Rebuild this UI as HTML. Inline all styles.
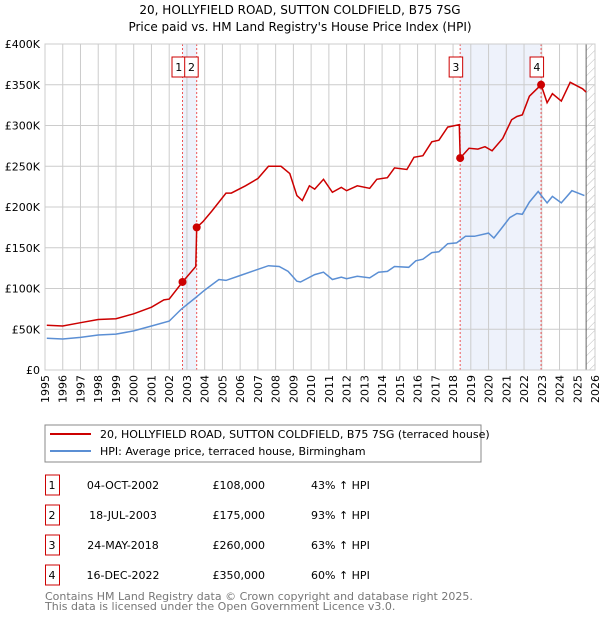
<!DOCTYPE html>
<html><head><meta charset="utf-8"><style>
body{margin:0;background:#fff;font-family:"DejaVu Sans","Liberation Sans",sans-serif;}
svg text{font-family:"DejaVu Sans","Liberation Sans",sans-serif;}
</style></head><body>
<svg id="c" width="600" height="620" xmlns="http://www.w3.org/2000/svg">
<defs><pattern id="h" width="6" height="6" patternUnits="userSpaceOnUse" patternTransform="rotate(45)"><line x1="0" y1="0" x2="0" y2="6" stroke="#bbb" stroke-width="1"/></pattern></defs>
<text x="300" y="14" font-size="12" text-anchor="middle">20, HOLLYFIELD ROAD, SUTTON COLDFIELD, B75 7SG</text>
<text x="300" y="31" font-size="12" text-anchor="middle">Price paid vs. HM Land Registry's House Price Index (HPI)</text>
<g id="plot"></g>
<g>
<rect x="45" y="425" width="436" height="37" fill="#fff" stroke="#888"/>
<line x1="50" y1="434" x2="91" y2="434" stroke="#cc0000" stroke-width="2"/>
<text x="100" y="438" font-size="11">20, HOLLYFIELD ROAD, SUTTON COLDFIELD, B75 7SG (terraced house)</text>
<line x1="50" y1="451" x2="91" y2="451" stroke="#5b8fd4" stroke-width="2"/>
<text x="100" y="455" font-size="11">HPI: Average price, terraced house, Birmingham</text>
</g>
<g id="table" font-size="11"></g>
<text x="45" y="600" font-size="11" fill="#777">Contains HM Land Registry data © Crown copyright and database right 2025.</text>
<text x="45" y="610" font-size="11" fill="#777">This data is licensed under the Open Government Licence v3.0.</text>
</svg>
<script>
const hpiYears=[1995.1,1996,1997,1998,1999,2000,2001,2002,2002.7,2003.5,2004,2004.8,2005.2,2006,2006.8,2007.6,2008.2,2008.7,2009.2,2009.4,2010.2,2010.7,2011.2,2011.7,2012,2012.6,2013.3,2013.8,2014.3,2014.7,2015.5,2015.9,2016.3,2016.8,2017.2,2017.7,2018.2,2018.7,2019.2,2020,2020.3,2020.7,2021.2,2021.6,2021.9,2022.3,2022.8,2023.3,2023.6,2024.1,2024.7,2025.4];
const hpiValues=[39,38,40,43,44,48,54,60,75,89,98,111,110,116,122,128,127,121,109,108,117,120,111,114,112,115,113,120,121,127,126,134,136,144,145,155,156,164,164,168,162,173,187,192,191,206,219,205,213,205,220,214];
const propYears=[1995.1,1996,1997,1998,1999,2000,2001,2001.7,2002,2002.75,2003.5,2003.55,2003.9,2004.4,2005.2,2005.5,2006.3,2007,2007.6,2008.3,2008.8,2009.2,2009.5,2009.9,2010.2,2010.7,2011.2,2011.7,2012,2012.6,2013.3,2013.7,2014.3,2014.7,2015.4,2015.8,2016.3,2016.8,2017.2,2017.7,2018.35,2018.4,2018.9,2019.4,2019.8,2020.2,2020.8,2021.3,2021.6,2021.9,2022.3,2022.96,2023.3,2023.6,2024.1,2024.6,2025.3,2025.5];
const propValues=[55,54,58,62,63,69,77,86,87,108,127,175,182,195,217,217,226,235,250,250,241,214,208,226,222,234,218,224,220,226,223,234,236,248,246,261,263,280,282,298,301,260,272,271,274,269,284,307,311,313,336,350,328,339,330,353,345,341];
const saleLabels=["1","2","3","4"];
const saleYears=[2002.75,2003.55,2018.4,2022.96];
const saleValues=[108,175,260,350];
const saleDates=["04-OCT-2002","18-JUL-2003","24-MAY-2018","16-DEC-2022"];
const salePrices=["£108,000","£175,000","£260,000","£350,000"];
const saleHpi=["43% ↑ HPI","93% ↑ HPI","63% ↑ HPI","60% ↑ HPI"];
const yTicks=[0,50,100,150,200,250,300,350,400];
const yTickLabels=["£0","£50K","£100K","£150K","£200K","£250K","£300K","£350K","£400K"];
const xTicks=[1995,1996,1997,1998,1999,2000,2001,2002,2003,2004,2005,2006,2007,2008,2009,2010,2011,2012,2013,2014,2015,2016,2017,2018,2019,2020,2021,2022,2023,2024,2025,2026];
const NS="http://www.w3.org/2000/svg";
const X0=45,X1=595,Y0=370,Y1=44;
const xs=y=>X0+(y-1995)/31*(X1-X0);
const ys=v=>Y0-v/400*(Y0-Y1);
const P=document.getElementById('plot');
function mk(t,a,par){const e=document.createElementNS(NS,t);for(const k in a)e.setAttribute(k,a[k]);(par||P).appendChild(e);return e;}
let r;
r=mk('rect',{x:xs(saleYears[0]),y:Y1,width:xs(saleYears[1])-xs(saleYears[0]),height:Y0-Y1,fill:'#eef2fb'});


r=mk('rect',{x:xs(saleYears[2]),y:Y1,width:xs(saleYears[3])-xs(saleYears[2]),height:Y0-Y1,fill:'#eef2fb'});


r=mk('rect',{x:xs(2025.5),y:Y1,width:X1-xs(2025.5),height:Y0-Y1,fill:'url(#h)'});


xTicks.forEach(t=>{
 const l=mk('line',{x1:xs(t),x2:xs(t),y1:Y1,y2:Y0,stroke:'#ccc'});
 
 
 const tx=mk('text',{x:0,y:0,'font-size':11,'text-anchor':'end',transform:`translate(${xs(t)+4},${Y0+5}) rotate(-90)`});
 tx.textContent=t;
 
 
});
yTicks.forEach((t,i)=>{
 const l=mk('line',{x1:X0,x2:X1,y1:ys(t),y2:ys(t),stroke:'#ccc'});
 
 
 const tx=mk('text',{x:40,y:ys(t)+4,'font-size':11,'text-anchor':'end'});
 tx.textContent=yTickLabels[i];
 
 
});
r=mk('line',{x1:xs(2025.5),x2:xs(2025.5),y1:Y1,y2:Y0,stroke:'#666'});


saleYears.forEach((y,i)=>{
 const l=mk('line',{x1:xs(y),x2:xs(y),y1:Y1,y2:Y0,stroke:'#ee5555','stroke-dasharray':'2,2'});
 
 
});
const pts=(a,b)=>a.map((y,i)=>xs(y).toFixed(1)+','+ys(b[i]).toFixed(1)).join(' ');
r=mk('polyline',{points:pts(hpiYears,hpiValues),fill:'none',stroke:'#5b8fd4','stroke-width':1.5});


r=mk('polyline',{points:pts(propYears,propValues),fill:'none',stroke:'#cc0000','stroke-width':1.5});


const boxOff=[-10.5,-12,-11,-11];
saleYears.forEach((y,i)=>{
 const c=mk('circle',{cx:xs(y),cy:ys(saleValues[i]),r:4,fill:'#cc0000'});
 
 
 const lx=xs(y)+boxOff[i];
 const b=mk('rect',{x:lx,y:57,width:13.5,height:20,fill:'#fff',stroke:'#cc0000'});
 
 
 const t=mk('text',{x:lx+6.75,y:71,'font-size':11,'text-anchor':'middle'});
 t.textContent=saleLabels[i];
 
 
});
r=mk('rect',{x:X0,y:Y1,width:X1-X0,height:Y0-Y1,fill:'none',stroke:'#ccc'});


const T=document.getElementById('table');
saleLabels.forEach((s,i)=>{
 const yy=483+i*30;
 const b=mk('rect',{x:45.5,y:yy-8,width:14,height:20,fill:'#fff',stroke:'#cc0000'},T);
 
 
 const vals=[[52,s,'middle'],[123,saleDates[i],'middle'],[265,salePrices[i],'end'],[311,saleHpi[i],'start']];
 vals.forEach(v=>{const t=mk('text',{x:v[0],y:yy+6,'text-anchor':v[2]},T);t.textContent=v[1];
  
  });
});
</script>
</body></html>
